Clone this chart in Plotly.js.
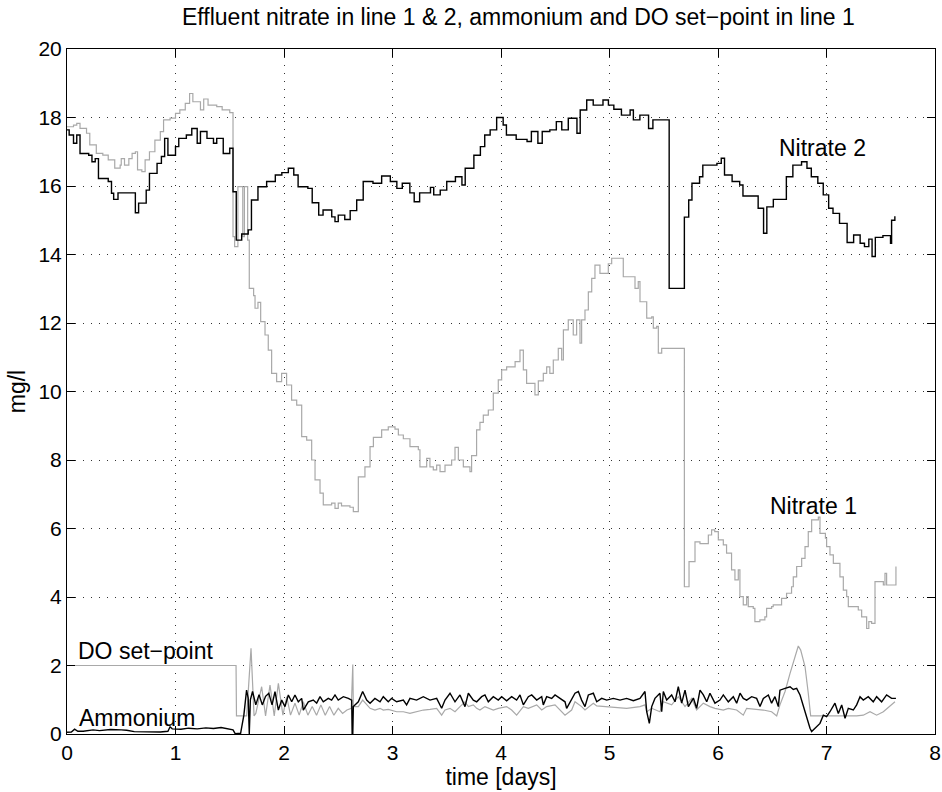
<!DOCTYPE html>
<html>
<head>
<meta charset="utf-8">
<script src="https://cdn.plot.ly/plotly-3.0.1.min.js"></script>
<style>html,body{margin:0;padding:0;background:#fff;}#chart{width:942px;height:792px;}</style>
</head>
<body>
<div id="chart"></div>
<script>
// ---- data ----
const xTicks = [0, 1, 2, 3, 4, 5, 6, 7, 8];
const yTicks = [0, 2, 4, 6, 8, 10, 12, 14, 16, 18, 20];

const nitrate2Time = [
0.00,0.02,0.06,0.09,0.12,0.20,0.23,0.26,0.29,0.38,
0.41,0.43,0.47,0.63,0.66,0.73,0.76,0.83,0.87,0.90,
0.93,1.00,1.03,1.10,1.15,1.20,1.23,1.29,1.35,1.38,
1.44,1.50,1.53,1.56,1.61,1.67,1.70,1.76,1.84,1.92,
1.98,2.04,2.09,2.13,2.22,2.26,2.32,2.36,2.44,2.47,
2.50,2.56,2.61,2.67,2.73,2.82,2.90,2.98,3.04,3.09,
3.16,3.20,3.25,3.35,3.38,3.44,3.50,3.58,3.64,3.67,
3.75,3.81,3.85,3.90,3.96,4.02,4.05,4.14,4.24,4.28,
4.34,4.38,4.45,4.51,4.56,4.62,4.70,4.73,4.79,4.85,
4.94,4.99,5.04,5.11,5.19,5.22,5.28,5.36,5.40,5.55,
5.69,5.73,5.76,5.83,5.86,5.99,6.03,6.06,6.13,6.20,
6.23,6.37,6.42,6.45,6.51,6.63,6.69,6.77,6.82,6.86,
6.92,6.97,7.02,7.06,7.12,7.19,7.25,7.31,7.35,7.39,
7.42,7.45,7.52,7.59,7.60,7.63];
const nitrate2Value = [
17.64,17.49,17.25,17.49,16.95,16.90,16.71,16.80,16.22,16.13,
15.79,15.61,15.80,15.22,15.50,15.88,16.37,16.66,16.86,17.39,
16.90,17.15,17.39,17.49,17.68,17.25,17.59,17.39,17.25,17.39,
16.95,17.10,15.83,14.42,14.60,14.72,15.59,15.98,16.13,16.32,
16.39,16.52,16.32,15.98,15.93,15.51,15.15,15.30,15.10,14.96,
15.15,15.02,15.28,15.59,16.13,16.08,16.29,16.13,15.93,16.08,
15.80,15.54,15.80,15.96,15.74,15.88,16.13,16.27,16.03,16.52,
16.90,17.15,17.49,17.64,18.00,17.78,17.49,17.36,17.30,17.59,
17.25,17.59,17.64,17.88,17.64,17.98,17.54,18.22,18.51,18.36,
18.51,18.36,18.24,18.07,18.22,17.93,18.07,17.68,17.93,13.01,
15.09,15.59,16.08,16.27,16.61,16.66,16.81,16.32,16.13,16.03,
15.71,15.35,14.62,15.39,15.61,16.27,16.61,16.71,16.52,16.27,
16.08,15.74,15.35,15.20,14.91,14.35,14.57,14.33,14.23,14.45,
13.94,14.50,14.55,14.33,15.00,15.12];

const nitrate1Time = [
0.00,0.06,0.09,0.12,0.18,0.21,0.27,0.33,0.38,0.44,
0.49,0.50,0.53,0.57,0.60,0.63,0.65,0.69,0.72,0.76,
0.81,0.86,0.89,0.95,1.00,1.04,1.09,1.13,1.16,1.23,
1.26,1.30,1.38,1.43,1.50,1.53,1.545,1.575,1.62,1.635,
1.665,1.68,1.72,1.733,1.76,1.785,1.825,1.855,1.886,1.932,
1.978,2.024,2.07,2.117,2.163,2.209,2.255,2.286,2.332,2.362,
2.439,2.47,2.50,2.53,2.608,2.639,2.685,2.746,2.793,2.824,
2.90,2.961,3.023,3.054,3.10,3.161,3.238,3.253,3.315,3.345,
3.376,3.407,3.438,3.484,3.545,3.576,3.607,3.653,3.714,3.729,
3.775,3.806,3.837,3.883,3.929,3.975,4.006,4.052,4.13,4.175,
4.206,4.236,4.313,4.344,4.39,4.421,4.45,4.482,4.528,4.559,
4.575,4.62,4.666,4.697,4.728,4.743,4.774,4.805,4.836,4.866,
4.912,4.989,5.02,5.127,5.235,5.265,5.281,5.343,5.389,5.404,
5.435,5.45,5.481,5.69,5.733,5.788,5.834,5.911,5.941,5.97,
6.003,6.049,6.079,6.125,6.156,6.187,6.202,6.233,6.264,6.279,
6.325,6.34,6.386,6.432,6.448,6.494,6.509,6.586,6.632,6.678,
6.694,6.725,6.771,6.802,6.832,6.863,6.925,6.94,6.99,7.001,
7.032,7.063,7.124,7.155,7.186,7.201,7.293,7.324,7.37,7.39,
7.416,7.447,7.524,7.539,7.554,7.64];
const nitrate1Value = [
17.73,17.78,17.83,17.68,17.54,17.20,16.95,16.90,16.76,16.52,
16.61,16.80,16.61,16.80,16.95,17.00,16.47,16.42,16.76,17.00,
17.34,17.59,17.93,17.98,18.12,18.22,18.41,18.70,18.46,18.22,
18.54,18.36,18.32,18.22,18.14,14.52,14.23,15.98,14.52,15.98,
14.42,13.01,12.80,12.43,12.60,12.04,11.65,11.21,10.53,10.29,
10.53,10.19,9.75,9.60,8.68,8.58,8.00,7.42,7.03,6.69,
6.74,6.59,6.74,6.66,6.62,6.49,7.51,7.80,8.39,8.66,
8.88,8.97,8.90,8.73,8.62,8.39,8.30,7.80,8.05,7.80,
7.71,7.85,7.66,7.85,8.00,8.37,8.00,7.80,7.66,8.13,
8.88,9.10,9.31,9.46,9.95,10.34,10.63,10.72,10.87,11.21,
10.63,10.24,9.90,10.31,10.53,10.72,10.53,10.92,11.26,10.92,
11.80,12.09,11.65,12.09,11.41,12.09,12.38,12.91,13.30,13.69,
13.45,13.73,13.89,13.35,13.01,13.21,12.62,12.14,12.18,11.85,
11.90,11.12,11.26,4.30,5.03,5.61,5.56,5.81,5.96,5.91,
5.67,5.52,5.28,4.79,4.50,4.79,4.01,3.77,4.01,3.72,
3.67,3.28,3.33,3.42,3.67,3.72,3.77,3.96,4.11,4.30,
4.59,4.89,5.13,5.47,5.91,6.25,6.33,5.86,5.72,5.47,
5.23,4.98,4.59,4.20,4.01,3.72,3.62,3.42,3.08,3.28,
3.23,4.45,4.35,4.69,4.35,4.89];

const ammoniumTime = [
0.00,0.04,0.07,0.10,0.15,0.24,0.30,0.40,0.50,0.55,
0.62,0.70,0.78,0.86,0.93,0.95,0.97,1.05,1.12,1.20,
1.28,1.35,1.42,1.48,1.53,1.55,1.60,1.63,1.655,1.67,
1.675,1.68,1.69,1.71,1.74,1.77,1.80,1.83,1.86,1.89,
1.917,1.948,1.979,2.009,2.040,2.071,2.101,2.132,2.163,2.178,
2.224,2.270,2.301,2.332,2.362,2.408,2.439,2.470,2.500,2.547,
2.593,2.624,2.628,2.634,2.639,2.685,2.725,2.762,2.793,2.838,
2.885,2.915,2.961,2.992,3.038,3.100,3.130,3.161,3.222,3.284,
3.346,3.407,3.453,3.484,3.530,3.576,3.622,3.668,3.699,3.745,
3.776,3.822,3.852,3.883,3.929,3.975,4.006,4.052,4.098,4.144,
4.175,4.206,4.252,4.283,4.329,4.375,4.390,4.421,4.467,4.498,
4.544,4.590,4.605,4.651,4.682,4.713,4.743,4.774,4.805,4.851,
4.882,4.928,4.974,5.035,5.097,5.158,5.220,5.281,5.327,5.343,
5.367,5.389,5.419,5.465,5.481,5.496,5.527,5.573,5.604,5.634,
5.665,5.696,5.727,5.773,5.803,5.834,5.865,5.896,5.926,5.972,
6.018,6.049,6.095,6.141,6.172,6.203,6.233,6.264,6.310,6.356,
6.387,6.418,6.464,6.494,6.525,6.556,6.571,6.618,6.664,6.694,
6.725,6.756,6.786,6.817,6.848,6.863,6.909,6.940,6.971,7.001,
7.032,7.078,7.109,7.140,7.171,7.201,7.247,7.278,7.309,7.339,
7.385,7.431,7.462,7.508,7.554,7.600,7.640];
const ammoniumValue = [
0.05,0.06,0.14,0.08,0.08,0.12,0.10,0.13,0.12,0.11,
0.07,0.06,0.07,0.06,0.08,0.21,0.15,0.14,0.17,0.15,
0.18,0.16,0.19,0.16,0.12,0.01,0.02,0.55,1.28,1.05,
0.00,0.00,1.00,1.24,0.85,1.15,0.85,1.10,1.19,0.85,
1.24,0.70,0.99,0.80,1.14,0.94,1.14,0.94,1.04,0.70,
0.94,0.99,0.90,1.09,0.94,1.04,0.99,1.14,0.99,1.09,
1.04,0.99,0.00,0.00,0.80,0.94,1.24,0.99,0.90,1.04,
0.94,1.09,0.94,1.04,0.94,0.99,0.85,1.04,0.99,1.09,
0.99,1.04,0.75,0.99,1.19,0.94,1.14,0.80,1.19,0.99,
0.94,1.09,1.14,0.94,1.09,0.99,1.09,0.97,1.09,0.99,
1.14,0.85,1.09,1.14,0.99,1.09,0.85,1.09,1.04,1.14,
1.04,0.94,0.75,0.99,1.19,1.24,0.99,0.80,1.14,1.19,
0.94,1.04,0.99,1.04,0.99,1.04,0.97,1.04,1.24,0.65,
0.31,0.80,1.04,1.19,0.65,1.24,0.99,1.14,0.94,1.38,
0.90,1.28,0.80,1.05,0.75,1.28,1.14,0.94,1.19,0.90,
0.99,1.14,0.94,1.09,0.90,1.19,1.04,0.99,1.09,1.04,
0.80,1.04,1.14,0.90,1.09,0.80,1.28,1.33,1.38,1.30,
1.33,1.14,0.80,0.51,0.17,0.07,0.21,0.31,0.55,0.51,
0.65,0.90,0.60,0.85,0.46,0.75,0.70,0.85,1.09,0.99,
1.09,0.94,1.09,0.94,1.14,1.04,1.04];

const doSetpointTime = [
0.000,1.558,1.562,1.656,1.696,1.724,1.740,1.794,1.830,1.871,
1.910,1.948,1.990,2.025,2.060,2.101,2.140,2.178,2.220,2.260,
2.300,2.340,2.380,2.420,2.460,2.500,2.540,2.580,2.620,2.628,
2.634,2.639,2.685,2.725,2.762,2.793,2.838,2.885,2.915,2.961,
3.038,3.100,3.161,3.222,3.284,3.346,3.407,3.453,3.484,3.530,
3.576,3.622,3.668,3.699,3.745,3.776,3.806,3.852,3.929,3.975,
4.052,4.098,4.144,4.206,4.252,4.329,4.375,4.421,4.498,4.590,
4.651,4.682,4.743,4.774,4.851,4.882,5.035,5.158,5.281,5.327,
5.343,5.389,5.465,5.496,5.573,5.634,5.696,5.757,5.803,5.865,
5.926,5.972,6.049,6.095,6.172,6.233,6.264,6.356,6.418,6.494,
6.541,6.571,6.618,6.664,6.710,6.740,6.762,6.802,6.832,6.854,
7.278,7.339,7.401,7.462,7.524,7.585,7.631];
const doSetpointValue = [
2.00,2.00,0.53,0.53,2.50,0.53,0.60,1.38,0.53,1.43,
0.53,1.48,0.55,1.09,0.55,0.90,0.55,0.94,0.55,0.80,
0.55,0.85,0.55,0.80,0.55,0.75,0.60,0.70,0.75,2.03,
2.03,0.80,0.80,0.99,0.85,0.75,0.70,0.75,0.70,0.72,
0.65,0.65,0.60,0.65,0.70,0.72,0.75,0.55,0.70,0.75,
0.65,0.80,0.94,0.80,0.85,0.75,0.70,0.80,0.70,0.75,
0.80,0.70,0.55,0.80,0.75,0.85,0.70,0.80,0.85,0.55,
0.70,0.94,0.80,0.70,0.90,0.82,0.78,0.75,0.80,0.85,
0.65,0.75,0.65,0.94,0.85,1.09,0.80,1.04,0.70,0.90,
0.80,0.75,0.70,0.75,0.70,0.55,0.75,0.72,0.70,0.65,
0.53,0.85,1.24,1.77,2.26,2.57,2.45,1.97,1.19,0.53,
0.53,0.55,0.65,0.55,0.65,0.80,0.94];

const labels = ["Nitrate 2", "Nitrate 1", "DO set\u2212point", "Ammonium"];
const chartTitle = "Effluent nitrate in line 1 &amp; 2, ammonium and DO set\u2212point in line 1";

// ---- drawing ----
const FONT = "Liberation Sans, Arial, Helvetica, sans-serif";
const GREY = "#a9a9a9";
const BLACK = "#000000";

const traces = [
  {x: nitrate1Time, y: nitrate1Value, mode: "lines", line: {color: GREY, width: 1.2, shape: "hv"}, hoverinfo: "skip"},
  {x: doSetpointTime, y: doSetpointValue, mode: "lines", line: {color: GREY, width: 1.2}, hoverinfo: "skip"},
  {x: nitrate2Time, y: nitrate2Value, mode: "lines", line: {color: BLACK, width: 1.4, shape: "hv"}, hoverinfo: "skip"},
  {x: ammoniumTime, y: ammoniumValue, mode: "lines", line: {color: BLACK, width: 1.4}, hoverinfo: "skip"}
];

const axisCommon = {
  showline: true, linecolor: BLACK, linewidth: 1, mirror: "ticks",
  ticks: "inside", ticklen: 8, tickcolor: BLACK, tickwidth: 1,
  showgrid: true, gridcolor: "#333", gridwidth: 1, griddash: "1px,7px",
  zeroline: false, tickfont: {family: FONT, size: 21, color: BLACK}
};

const layout = {
  width: 942, height: 792,
  margin: {l: 67, r: 7, t: 49, b: 58},
  paper_bgcolor: "#fff", plot_bgcolor: "#fff",
  showlegend: false,
  font: {family: FONT, color: BLACK},
  title: {text: chartTitle, font: {family: FONT, size: 23, color: BLACK},
          xref: "paper", x: 0.52, xanchor: "center", yref: "container", y: 0.978, yanchor: "middle"},
  xaxis: Object.assign({}, axisCommon, {range: [0, 8], tickvals: xTicks, ticktext: xTicks.map(String),
          title: {text: "time [days]", font: {family: FONT, size: 23, color: BLACK}, standoff: 2}}),
  yaxis: Object.assign({}, axisCommon, {range: [0, 20], tickvals: yTicks, ticktext: yTicks.map(String),
          title: {text: "mg/l", font: {family: FONT, size: 23, color: BLACK}, standoff: 6}}),
  annotations: [
    {x: 6.96, y: 17.1, xref: "x", yref: "y", text: labels[0], showarrow: false, xanchor: "center", yanchor: "middle", font: {family: FONT, size: 23, color: BLACK}},
    {x: 6.88, y: 6.66, xref: "x", yref: "y", text: labels[1], showarrow: false, xanchor: "center", yanchor: "middle", font: {family: FONT, size: 23, color: BLACK}},
    {x: 0.08, y: 2.42, xref: "x", yref: "y", text: labels[2], showarrow: false, xanchor: "left", yanchor: "middle", font: {family: FONT, size: 23, color: BLACK}},
    {x: 0.09, y: 0.48, xref: "x", yref: "y", text: labels[3], showarrow: false, xanchor: "left", yanchor: "middle", font: {family: FONT, size: 23, color: BLACK}}
  ]
};

Plotly.newPlot("chart", traces, layout, {staticPlot: true, displayModeBar: false});
</script>
</body>
</html>
